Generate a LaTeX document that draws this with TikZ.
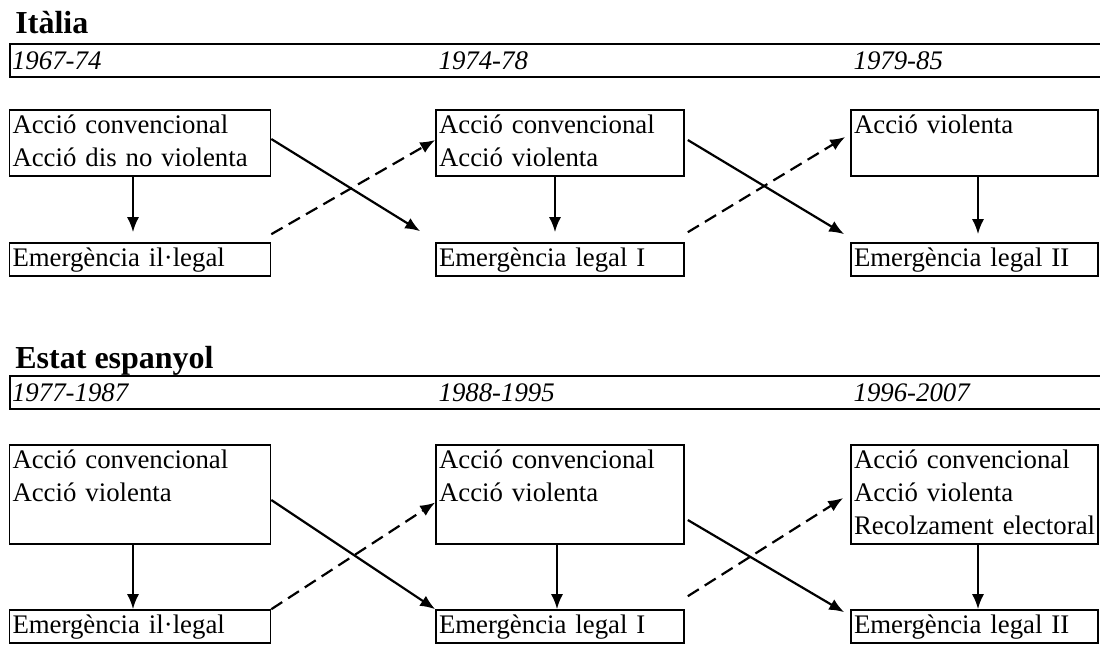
\documentclass[tikz,border=0pt]{standalone}
\usepackage{fontspec}
\setmainfont{Liberation Serif}
\usepackage{tikz}
\usetikzlibrary{positioning,arrows.meta}
\newcommand{\figfont}{\fontsize{13.4}{16.5}\selectfont}
\tikzstyle{block} = [rectangle, draw, line width=0.8pt, font=\figfont, align=left, inner xsep=1.5pt, inner ysep=0pt, execute at begin node=\strut, execute at end node=\strut]
\tikzstyle{bar} = [rectangle, draw, line width=0.8pt, minimum width=547.5pt, minimum height=16.5pt, inner sep=0pt]
\tikzstyle{year} = [font=\figfont\itshape, inner xsep=1.5pt, inner ysep=0pt]
\tikzstyle{title} = [font=\fontsize{16}{19}\selectfont\bfseries, inner sep=0pt]
\tikzstyle{line} = [draw, line width=1.1pt, -{Latex[length=7.5pt,width=6pt]}]
\tikzstyle{dline} = [line, dash pattern=on 6.5pt off 3.5pt]

\begin{document}
\begin{tikzpicture}
	\useasboundingbox (0,0) rectangle (550pt,-322.5pt);
	%% Italia title
	\node[title, anchor=base west] (T1) at (7.5pt,-16.5pt) {Itàlia};
	%% Italia time bar
	\node[bar, anchor=north west] (Bar1) at (4.5pt,-21.5pt) {};
	%% first period
	\node[block, text width=127.5pt] (IA1) at (70pt,-71.5pt) {Acció convencional\\Acció dis no violenta};
	\node[block, text width=127.5pt, below of=IA1, node distance=58.25pt] (IB1) {Emergència il·legal};
	%% second period
	\node[block, text width=121pt, right of=IA1, node distance=210pt] (IA2) {Acció convencional\\Acció violenta};
	\node[block, text width=121pt, below of=IA2, node distance=58.25pt] (IB2) {Emergència legal I};
	%% third period
	\node[block, text width=120.5pt, right of=IA2, node distance=207.25pt] (IA3) {Acció violenta\\\mbox{}};
	\node[block, text width=120.5pt, below of=IA3, node distance=58.25pt] (IB3) {Emergència legal II};
	%% years
	\node[year, anchor=west] (IY1) at (IA1.west |- Bar1) {1967-74};
	\node[year, anchor=west] (IY2) at (IA2.west |- Bar1) {1974-78};
	\node[year, anchor=west] (IY3) at (IA3.west |- Bar1) {1979-85};

	%% Estat espanyol title
	\node[title, anchor=base west] (T2) at (7.5pt,-184pt) {Estat espanyol};
	%% Estat espanyol time bar
	\node[bar, anchor=north west] (Bar2) at (4.5pt,-187.5pt) {};
	%% first period
	\node[block, text width=127.5pt] (SC1) at (70pt,-247.25pt) {Acció convencional\\Acció violenta\\\mbox{}};
	\node[block, text width=127.5pt, below of=SC1, node distance=66pt] (SD1) {Emergència il·legal};
	%% second period
	\node[block, text width=121pt, right of=SC1, node distance=210pt] (SC2) {Acció convencional\\Acció violenta\\\mbox{}};
	\node[block, text width=121pt, below of=SC2, node distance=66pt] (SD2) {Emergència legal I};
	%% third period
	\node[block, text width=120.5pt, right of=SC2, node distance=207.25pt] (SC3) {Acció convencional\\Acció violenta\\\mbox{Recolzament electoral}};
	\node[block, text width=120.5pt, below of=SC3, node distance=66pt] (SD3) {Emergència legal II};
	%% years
	\node[year, anchor=west] (SY1) at (SC1.west |- Bar2) {1977-1987};
	\node[year, anchor=west] (SY2) at (SC2.west |- Bar2) {1988-1995};
	\node[year, anchor=west] (SY3) at (SC3.west |- Bar2) {1996-2007};

	%% edges Italia
	\path[line, shorten >=5pt] ([xshift=-3.5pt]IA1.south) -- ([xshift=-3.5pt]IB1.north);
	\path[line, shorten >=5pt] ([xshift=-2.5pt]IA2.south) -- ([xshift=-2.5pt]IB2.north);
	\path[line, shorten >=4pt] ([xshift=1.75pt]IA3.south) -- ([xshift=1.75pt]IB3.north);
	\path[line] ([yshift=2pt]IA1.east) -- ([xshift=-7.5pt,yshift=5.5pt]IB2.north west);
	\path[dline] ([yshift=4pt]IB1.north east) -- ([yshift=1.5pt]IA2.west);
	\path[line] ([xshift=1.5pt,yshift=1.5pt]IA2.east) -- ([xshift=-3pt,yshift=4pt]IB3.north west);
	\path[dline] ([xshift=1.5pt,yshift=5pt]IB2.north east) -- ([xshift=-2.5pt,yshift=3pt]IA3.west);

	%% edges Estat espanyol
	\path[line] ([xshift=-3.5pt]SC1.south) -- ([xshift=-3.5pt]SD1.north);
	\path[line] ([xshift=-1.5pt]SC2.south) -- ([xshift=-1.5pt]SD2.north);
	\path[line] ([xshift=1.75pt]SC3.south) -- ([xshift=1.75pt]SD3.north);
	\path[line] ([yshift=-2.75pt]SC1.east) -- (SD2.north west);
	\path[dline] (SD1.north east) -- ([yshift=-4pt]SC2.west);
	\path[line] ([xshift=1.5pt,yshift=-12.75pt]SC2.east) -- ([xshift=-3pt,yshift=-1.5pt]SD3.north west);
	\path[dline] ([xshift=1.5pt,yshift=6.5pt]SD2.north east) -- ([xshift=-3.5pt,yshift=-1.75pt]SC3.west);
\end{tikzpicture}
\end{document}
